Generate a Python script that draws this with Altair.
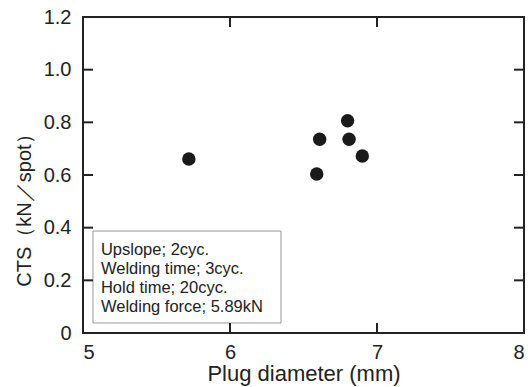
import altair as alt
import pandas as pd

# Measured cross tension strength against plug diameter
plug_diameter = [5.72, 6.59, 6.61, 6.80, 6.81, 6.90]
cts = [0.661, 0.604, 0.736, 0.806, 0.736, 0.672]

x_ticks = [5, 6, 7, 8]
y_ticks = [0, 0.2, 0.4, 0.6, 0.8, 1.0, 1.2]
x_inner_ticks = [6, 7]
y_inner_ticks = [0.2, 0.4, 0.6, 0.8, 1.0]

conditions = [
    "Upslope; 2cyc.",
    "Welding time; 3cyc.",
    "Hold time; 20cyc.",
    "Welding force; 5.89kN",
]

W, H = 441, 316
FONT = "Liberation Sans"
TICK = 10
INK = "#222222"

pts = pd.DataFrame({"d": plug_diameter, "cts": cts})
xt = pd.DataFrame({"xv": x_inner_ticks})
yt = pd.DataFrame({"yv": y_inner_ticks})
note = pd.DataFrame({"t": ["\n".join(conditions)]})

xscale = alt.Scale(domain=[5, 8], nice=False, zero=False)
yscale = alt.Scale(domain=[0, 1.2], nice=False)

x_axis = alt.Axis(
    values=x_ticks, format="d", ticks=False, domain=False, grid=False,
    labelFont=FONT, labelFontSize=20, labelColor=INK, labelPadding=9,
    title="Plug diameter (mm)", titleFont=FONT, titleFontSize=22,
    titleFontWeight="normal", titleColor=INK, titlePadding=1,
)
y_axis = alt.Axis(
    values=y_ticks, ticks=False, domain=False, grid=False,
    labelFont=FONT, labelFontSize=20, labelColor=INK, labelPadding=12,
    labelExpr="datum.value == 0 ? '0' : format(datum.value, '.1f')",
    title="CTS（kN／spot）", titleFont=FONT, titleFontSize=20,
    titleFontWeight="normal", titleColor=INK,
    titleX=-59, titleY=188, titleBaseline="middle",
)

points = alt.Chart(pts).mark_circle(size=180, color="#1a1a1a", opacity=1).encode(
    x=alt.X("d:Q", scale=xscale, axis=x_axis),
    y=alt.Y("cts:Q", scale=yscale, axis=y_axis),
)

# welding-condition box, placed in axis units
box = alt.Chart(note).mark_rect(fill="white", stroke="#999999", strokeWidth=1).encode(
    x=alt.X(datum=5.068, scale=xscale), x2=alt.X2(datum=6.347),
    y=alt.Y(datum=0.387, scale=yscale), y2=alt.Y2(datum=0.038),
)
box_text = alt.Chart(note).mark_text(
    align="left", baseline="alphabetic", lineBreak="\n", lineHeight=19,
    font=FONT, fontSize=16.5, color=INK,
).encode(
    x=alt.X(datum=5.122, scale=xscale),
    y=alt.Y(datum=0.296, scale=yscale),
    text="t:N",
)

# inward ticks on all four sides of the frame
top_ticks = alt.Chart(xt).mark_rule(color=INK, strokeWidth=2).encode(
    x=alt.X("xv:Q", scale=xscale), y=alt.value(0), y2=alt.value(TICK))
bottom_ticks = alt.Chart(xt).mark_rule(color=INK, strokeWidth=2).encode(
    x=alt.X("xv:Q", scale=xscale), y=alt.value(H - TICK), y2=alt.value(H))
left_ticks = alt.Chart(yt).mark_rule(color=INK, strokeWidth=2).encode(
    y=alt.Y("yv:Q", scale=yscale), x=alt.value(0), x2=alt.value(TICK))
right_ticks = alt.Chart(yt).mark_rule(color=INK, strokeWidth=2).encode(
    y=alt.Y("yv:Q", scale=yscale), x=alt.value(W), x2=alt.value(W - TICK))

chart = alt.layer(
    points, box, box_text, top_ticks, bottom_ticks, left_ticks, right_ticks
).properties(
    width=W, height=H,
    autosize=alt.AutoSizeParams(type="none"),
    padding={"left": 83, "top": 17, "right": 4, "bottom": 54},
    background="white",
).configure_view(stroke=INK, strokeWidth=2)

chart.save("out.html", embed_options={"renderer": "svg", "actions": False})
